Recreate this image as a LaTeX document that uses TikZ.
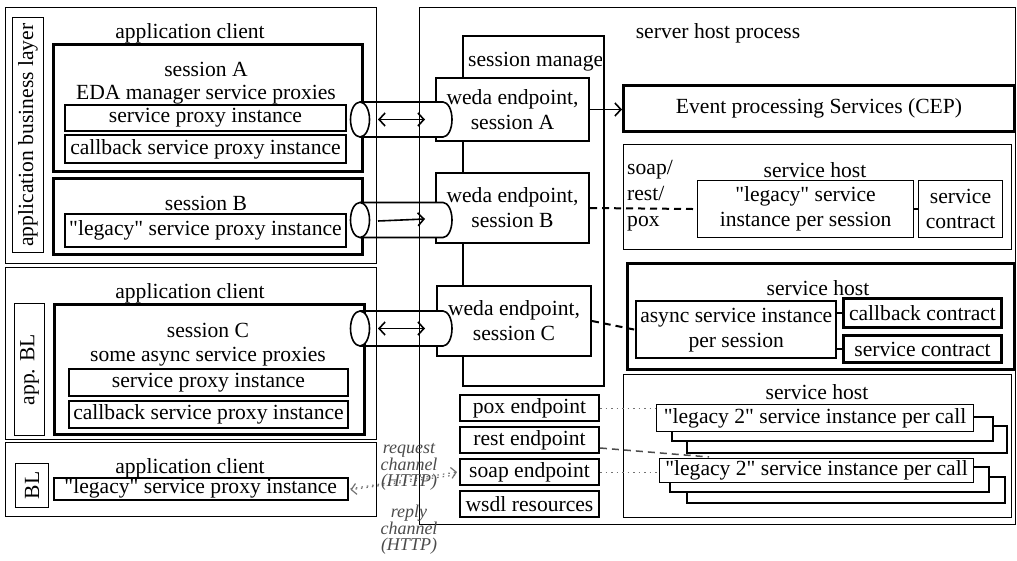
\documentclass[tikz,border=0pt]{standalone}
\usepackage{fontspec}
\setmainfont{Liberation Serif}[Ligatures=TeXOff]
\usepackage{tikz}
\usetikzlibrary{arrows, arrows.meta, positioning}

\begin{document}
\begin{tikzpicture}[
    x=1pt, y=-1pt,
    font=\fontsize{21.6}{25}\selectfont,
    frame/.style={rectangle, draw, line width=1.1pt, inner sep=0pt, anchor=north west, align=center},
    unit/.style={frame, line width=2pt, fill=white},
    heavy/.style={frame, line width=3pt},
    caption/.style={inner sep=0pt, align=center},
    channel/.style={inner sep=0pt, align=center, text=black!70, font=\fontsize{18}{16.5}\selectfont\itshape},
    arrow/.style={->, >={Straight Barb[length=6pt, width=13pt]}, line width=1.6pt},
    link/.style={line width=2pt, dash pattern=on 7pt off 5pt},
    wire/.style={line width=1pt, black!55, dash pattern=on 1.5pt off 4pt},
    pipe/.style={line width=1.6pt}
]
\useasboundingbox[fill=white] (0,0) rectangle (1017,561);

% Client side
\node[frame, minimum width=371pt, minimum height=256pt] (client1) at (5,7) {};
\node[frame, minimum width=31pt, minimum height=235pt] (bizlayer) at (12,17) {};
\node[caption, rotate=90] at (bizlayer.center) {application business layer};
\node[caption] (client1label) at (190,33) {application client};
\node[heavy, minimum width=309pt, minimum height=127pt] (sessA) at (52,43) {};
\node[caption] at (206,69) {session A};
\node[caption] at (206,95) {EDA manager service proxies};
\node[unit, minimum width=281pt, minimum height=26pt] (proxyA) at (64,104) {service proxy instance};
\node[unit, minimum width=281pt, minimum height=28pt] (cbproxyA) at (64,134) {callback service proxy instance};
\node[heavy, minimum width=309pt, minimum height=76pt] (sessB) at (52,177) {};
\node[caption] at (206,203) {session B};
\node[unit, minimum width=281pt, minimum height=33pt] (legacyB) at (64,213) {"legacy" service proxy instance};

\node[frame, minimum width=371pt, minimum height=172pt] (client2) at (5,267) {};
\node[frame, minimum width=30pt, minimum height=132pt] (applayer) at (14,303) {};
\node[caption, rotate=90] at (applayer.center) {app. BL};
\node[caption] (client2label) at (190,293) {application client};
\node[heavy, minimum width=310pt, minimum height=130pt] (sessC) at (53,303) {};
\node[caption] at (208,330) {session C};
\node[caption] at (208,357) {some async service proxies};
\node[unit, minimum width=279pt, minimum height=27pt] (proxyC) at (68,368) {service proxy instance};
\node[unit, minimum width=279pt, minimum height=27pt] (cbproxyC) at (68,400) {callback service proxy instance};

\node[frame, minimum width=371pt, minimum height=74pt] (client3) at (5,442) {};
\node[frame, minimum width=33pt, minimum height=44pt] (bllayer) at (15,463) {};
\node[caption, rotate=90] at (bllayer.center) {BL};
\node[caption] (client3label) at (190,468) {application client};
\node[unit, line width=1.5pt, minimum width=294pt, minimum height=22pt] (legacyD) at (53,477) {"legacy" service proxy instance};

% Server side
\node[frame, minimum width=596pt, minimum height=517pt] (server) at (419,7) {};
\node[caption] (serverlabel) at (718,33) {server host process};
\node[frame, line width=2pt, minimum width=141pt, minimum height=350pt] (sessmgr) at (462,35) {};
\begin{scope}
  \clip (sessmgr.north west) rectangle ([xshift=-4pt]sessmgr.south east);
  \node[caption, anchor=west] (mgrlabel) at (468,62) {session manager};
\end{scope}
\node[unit, minimum width=153pt, minimum height=63pt] (wedaA) at (435,77) {weda endpoint,\\session A};
\node[unit, minimum width=153pt, minimum height=70pt] (wedaB) at (435,172) {weda endpoint,\\session B};
\node[unit, minimum width=154pt, minimum height=70pt] (wedaC) at (436,285) {weda endpoint,\\session C};

\node[heavy, minimum width=391pt, minimum height=46pt] (cep) at (622,84) {Event processing Services (CEP)};

\node[frame, minimum width=388pt, minimum height=105pt] (host1) at (623,144) {};
\node[caption] at (815,170) {service host};
\node[caption, anchor=west, align=left, font=\fontsize{21.6}{26}\selectfont] (protocols) at (627,196) {soap/\\rest/\\pox};
\node[frame, minimum width=216pt, minimum height=57pt] (legacy1) at (697,180) {"legacy" service\\instance per session};
\node[frame, minimum width=84pt, minimum height=57pt] (contract1) at (918,180) {service\\contract};

\node[heavy, minimum width=387pt, minimum height=106pt] (host2) at (626,262) {};
\node[caption] at (818,288) {service host};
\node[unit, line width=2.4pt, minimum width=200pt, minimum height=57pt] (async) at (635,300) {async service instance\\per session};
\node[heavy, minimum width=158pt, minimum height=29pt] (cbcontract) at (842,297) {callback contract};
\node[heavy, minimum width=158pt, minimum height=27pt] (contract2) at (842,334) {service contract};

\node[frame, minimum width=388pt, minimum height=143pt] (host3) at (623,374) {};
\node[caption] at (817,392) {service host};

% Endpoints
\node[unit, minimum width=139pt, minimum height=26pt] (pox) at (459,394) {pox endpoint};
\node[unit, minimum width=139pt, minimum height=26pt, below=4pt of pox] (rest) {rest endpoint};
\node[unit, minimum width=139pt, minimum height=26pt, below=4pt of rest] (soap) {soap endpoint};
\node[unit, minimum width=139pt, minimum height=26pt, below=4pt of soap] (wsdl) {wsdl resources};

% Per call instances (stacked)
\draw[line width=1.1pt, fill=white] (687,426) rectangle (1007,453);
\draw[line width=1.1pt, fill=white] (672,417) rectangle (993,441);
\node[frame, fill=white, minimum width=317pt, minimum height=27pt] (legacy2a) at (656,404) {"legacy 2" service instance per call};
\draw[link, line width=1.5pt, black!70] ([yshift=-8pt]rest.east) -- ([xshift=53pt]legacy2a.south west |- 0,457);
\draw[line width=1.1pt, fill=white] (687,477) rectangle (1005,503);
\draw[line width=1.1pt, fill=white] (670,467) rectangle (989,492);
\node[frame, fill=white, minimum width=314pt, minimum height=24pt] (legacy2b) at (659,458) {"legacy 2" service instance per call};

% Connectors
\draw[arrow] (wedaA.east) -- (wedaA.east -| cep.west);
\draw[link] (wedaB.east) -- (legacy1.west);
\draw[link] (wedaC.east) -- (async.west);
\draw[line width=1.1pt] (legacy1) -- (contract1);
\draw[line width=2pt] (async.east |- cbcontract.west) -- (cbcontract.west);
\draw[line width=2pt] (async.east |- contract2.west) -- (contract2.west);
\draw[wire] (pox.east) -- (pox.east -| legacy2a.west);
\draw[wire] (soap.east) -- (soap.east -| legacy2b.west);

% HTTP channels
\draw[wire, ->, >={Straight Barb[length=5pt, width=11pt]}, line width=1.2pt] ([xshift=2pt]legacyD.east) -- ([xshift=-2pt]soap.west);
\draw[wire, ->, >={Straight Barb[length=5pt, width=11pt]}, line width=1.2pt] ([xshift=-4pt, yshift=-3pt]soap.west) -- ([xshift=2pt, yshift=-1pt]legacyD.east);
\node[channel] (request) at (409,467) {request\\channel\\(HTTP)};
\node[channel] (reply) at (409,530) {reply\\channel\\(HTTP)};

% Pipes
\coordinate (pipeA) at (360,119.5);
\coordinate (pipeB) at (360,220);
\coordinate (pipeC) at (360,328.5);
\foreach \p in {pipeA, pipeB, pipeC} {
  \fill[white] ([xshift=70pt, yshift=17.5pt]\p) -- ([xshift=83pt, yshift=17.5pt]\p)
      arc[start angle=90, end angle=-90, x radius=9pt, y radius=17.5pt] -- ([xshift=70pt, yshift=-17.5pt]\p) -- cycle;
  \draw[pipe] ([yshift=17.5pt]\p) -- ([xshift=83pt, yshift=17.5pt]\p)
      arc[start angle=90, end angle=-90, x radius=9pt, y radius=17.5pt] -- ([yshift=-17.5pt]\p);
  \draw[pipe, fill=white] (\p) ellipse [x radius=9.5pt, y radius=17.5pt];
}
\draw[arrow, <->] ([xshift=18pt]pipeA) -- ([xshift=65pt]pipeA);
\draw[arrow] ([xshift=18pt, yshift=-1pt]pipeB) -- ([xshift=65pt, yshift=1pt]pipeB);
\draw[arrow, <->] ([xshift=18pt]pipeC) -- ([xshift=65pt]pipeC);

\end{tikzpicture}
\end{document}
